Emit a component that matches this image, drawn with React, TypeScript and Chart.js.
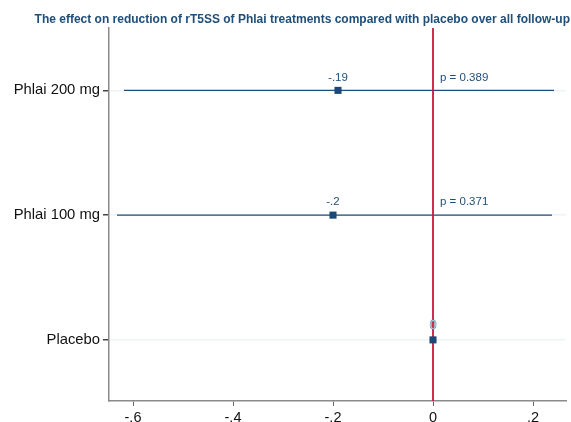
import React, { useEffect, useRef } from "react";
import { Chart, registerables } from "chart.js";

Chart.register(...registerables);

const categories = ["Placebo", "Phlai 100 mg", "Phlai 200 mg"];
const estimates = [0, -0.2, -0.19];
const lowerCI = [null, -0.632, -0.618];
const upperCI = [null, 0.238, 0.242];
const estimateLabels = ["0", "-.2", "-.19"];
const pLabels = ["", "p = 0.371", "p = 0.389"];
const xTickValues = [-0.6, -0.4, -0.2, 0, 0.2];
const xTickLabels = ["-.6", "-.4", "-.2", "0", ".2"];
const titleText =
  "The effect on reduction of rT5SS of Phlai treatments compared with placebo over all follow-up";

const FONT = "'Liberation Sans', Arial, Helvetica, sans-serif";
const BLUE = "#1f4e79";
const RED = "#c8173f";

const overlayPlugin = {
  id: "overlay",
  afterDatasetsDraw(chart: any) {
    const { ctx, scales } = chart;
    const xs = scales.x;
    const ys = scales.y;
    ctx.save();
    ctx.textAlign = "center";
    ctx.textBaseline = "middle";
    ctx.font = `11.5px ${FONT}`;
    categories.forEach((_, i) => {
      const px = xs.getPixelForValue(estimates[i]);
      const py = ys.getPixelForValue(i + 1);
      if (i === 0) {
        ctx.fillStyle = "#b9c9db";
        ctx.strokeStyle = "#5a7596";
        ctx.lineWidth = 0.8;
        ctx.font = `12px ${FONT}`;
        ctx.strokeText(estimateLabels[i], px, py - 14);
        ctx.fillText(estimateLabels[i], px, py - 14);
        ctx.font = `11.5px ${FONT}`;
      } else {
        ctx.fillStyle = BLUE;
        ctx.fillText(estimateLabels[i], px, py - 13);
      }
      if (pLabels[i]) {
        ctx.textAlign = "left";
        ctx.fillStyle = BLUE;
        ctx.fillText(pLabels[i], xs.getPixelForValue(0) + 7, py - 13);
        ctx.textAlign = "center";
      }
    });
    ctx.restore();
  },
  afterDraw(chart: any) {
    const { ctx } = chart;
    ctx.save();
    ctx.font = `bold 12px ${FONT}`;
    ctx.fillStyle = BLUE;
    ctx.textAlign = "right";
    ctx.textBaseline = "middle";
    ctx.fillText(titleText, 570, 20);
    ctx.restore();
  },
};

export default function App() {
  const ref = useRef<HTMLCanvasElement | null>(null);
  useEffect(() => {
    document.body.style.margin = "0";
    const ciDatasets = categories
      .map((_, i) =>
        lowerCI[i] === null
          ? null
          : {
              type: "line" as const,
              data: [
                { x: lowerCI[i], y: i + 1 },
                { x: upperCI[i], y: i + 1 },
              ],
              borderColor: BLUE,
              borderWidth: 1.4,
              pointRadius: 0,
              order: 3,
            }
      )
      .filter(Boolean);
    const chart = new Chart(ref.current as HTMLCanvasElement, {
      type: "scatter",
      data: {
        datasets: [
          ...(ciDatasets as any[]),
          {
            type: "line",
            data: [
              { x: 0, y: 0.4 },
              { x: 0, y: 3.6 },
            ],
            borderColor: RED,
            borderWidth: 1.8,
            pointRadius: 0,
            order: 2,
          },
          {
            type: "scatter",
            data: estimates.map((v, i) => ({ x: v, y: i + 1 })),
            pointStyle: "rect",
            pointRadius: 5,
            backgroundColor: "#1a4877",
            borderColor: "#1a4877",
            borderWidth: 0,
            order: 1,
          },
        ],
      },
      options: {
        animation: false,
        responsive: false,
        maintainAspectRatio: false,
        layout: { padding: { top: 28, right: 0, left: 0, bottom: 0 } },
        plugins: {
          legend: { display: false },
          tooltip: { enabled: false },
          title: { display: false },
        },
        scales: {
          x: {
            type: "linear",
            min: -0.648,
            max: 0.266,
            afterBuildTicks: (scale: any) => {
              scale.ticks = xTickValues.map((v) => ({ value: v }));
            },
            afterFit: (scale: any) => {
              scale.height = 21;
            },
            ticks: {
              autoSkip: false,
              maxRotation: 0,
              padding: 3,
              color: "#111",
              font: { family: FONT, size: 14.5 },
              callback: (v: any) => {
                const idx = xTickValues.findIndex((t) => Math.abs(t - v) < 1e-9);
                return idx >= 0 ? xTickLabels[idx] : "";
              },
            },
            grid: {
              drawOnChartArea: false,
              drawTicks: true,
              tickLength: 5,
              tickColor: "#666",
            },
            border: { color: "#8a8a8a", width: 1.5 },
          },
          y: {
            type: "linear",
            min: 0.51,
            max: 3.5,
            afterBuildTicks: (scale: any) => {
              scale.ticks = categories.map((_, i) => ({ value: i + 1 }));
            },
            afterFit: (scale: any) => {
              scale.width = 109;
            },
            ticks: {
              autoSkip: false,
              padding: 3,
              color: "#111",
              font: { family: FONT, size: 14.8 },
              callback: (v: any) => {
                const idx = Math.round(v) - 1;
                return categories[idx] ?? "";
              },
            },
            grid: {
              color: "#eef3f3",
              lineWidth: 1.5,
              drawTicks: true,
              tickLength: 6,
              tickColor: "#444",
            },
            border: { color: "#8a8a8a", width: 1.5 },
          },
        },
      },
      plugins: [overlayPlugin],
    } as any);
    return () => chart.destroy();
  }, []);
  return (
    <div style={{ width: 571, height: 422, position: "relative" }}>
      <canvas ref={ref} width={571} height={422} style={{ display: "block" }} />
    </div>
  );
}
